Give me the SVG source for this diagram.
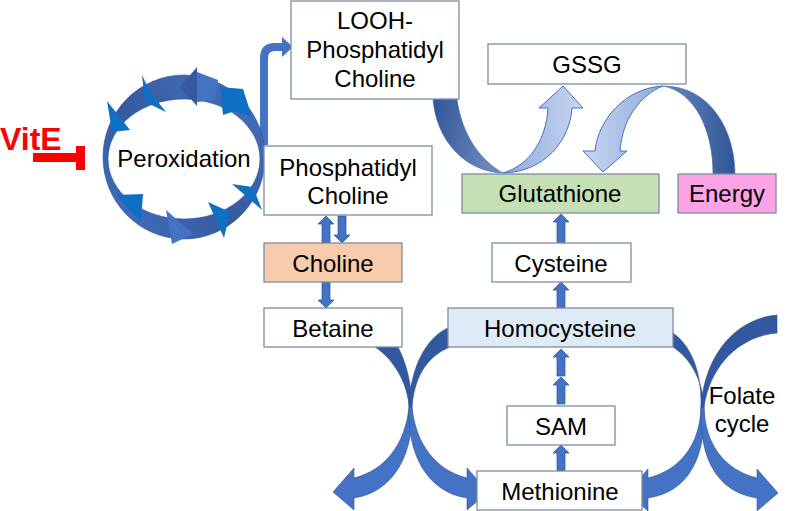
<svg xmlns="http://www.w3.org/2000/svg" width="800" height="511" viewBox="0 0 800 511">
<defs>
<linearGradient id="gDark" x1="0" y1="0" x2="1" y2="0.3">
<stop offset="0" stop-color="#2f5597"/><stop offset="1" stop-color="#6d87bd"/>
</linearGradient>
<linearGradient id="gDark2" x1="0" y1="0" x2="1" y2="0">
<stop offset="0" stop-color="#6d87bd"/><stop offset="1" stop-color="#2f5597"/>
</linearGradient>
<linearGradient id="gLight" x1="0" y1="0" x2="1" y2="0">
<stop offset="0" stop-color="#8fa9dc"/><stop offset="1" stop-color="#c9d6ef"/>
</linearGradient>
<linearGradient id="gLight2" x1="0" y1="0" x2="1" y2="0">
<stop offset="0" stop-color="#c9d6ef"/><stop offset="1" stop-color="#8fa9dc"/>
</linearGradient>
<linearGradient id="gRing" x1="0" y1="1" x2="1" y2="0">
<stop offset="0" stop-color="#4472c4"/><stop offset="0.45" stop-color="#36599f"/><stop offset="1" stop-color="#4a74c0"/>
</linearGradient>
</defs>
<style>
.box{fill:#ffffff;stroke:#7f8ca2;stroke-width:1.3}
.t{font-family:"Liberation Sans",Arial,sans-serif;font-size:24px;fill:#000;text-anchor:middle}
.sa{fill:#4472c4;stroke:#2f528f;stroke-width:0.7}
.cdark{fill:#34589f;stroke:#2f528f;stroke-width:0.6}
.clite{fill:#4472c4;stroke:#2f528f;stroke-width:0.6}
.tri{fill:#0f6fc2}
</style>
<rect width="800" height="511" fill="#ffffff"/>

<g id="connectors">
<!-- top U arrow LOOH -> Glutathione -> GSSG -->
<path d="M 433,99 C 436,140 465,172 503,173 C 480,160 462,135 457,99 Z" fill="url(#gDark)" stroke="#4a6db5" stroke-width="0.6"/>
<path d="M 503,173 C 545,172 570,140 572,108 L 583,108 L 563,86 L 539,108 L 548,108 C 546,140 530,165 503,173 Z" fill="url(#gLight)" stroke="#4472c4" stroke-width="1"/>
<!-- Energy -> over top -> Glutathione -->
<path d="M 663,86 C 710,86 735,130 735,174 L 713,174 C 713,130 695,92 663,86 Z" fill="url(#gDark2)" stroke="#4a6db5" stroke-width="0.6"/>
<path d="M 663,86 C 625,88 598,120 595,151 L 583,151 L 603,172 L 627,151 L 620,151 C 622,120 640,95 663,86 Z" fill="url(#gLight2)" stroke="#4472c4" stroke-width="1"/>

<!-- left crossing pair -->
<path class="cdark" d="M 375,347 C 395,360 408,385 409,407 L 412,407 C 412,385 406,362 398,347 Z"/>
<path class="clite" d="M 409,407 C 405,445 385,470 354,478 L 354,468 L 333,492 L 354,510 L 354,498 C 395,492 414,452 412,407 Z"/>
<path class="cdark" d="M 450,327 C 425,337 410,370 409,407 L 412,407 C 414,380 425,357 450,347 Z"/>
<path class="clite" d="M 412,407 C 416,445 436,470 467,478 L 467,468 L 488,492 L 467,510 L 467,498 C 426,492 407,452 409,407 Z"/>

<!-- right crossing pair -->
<path class="cdark" d="M 673,333 C 690,345 702,370 701,407 L 704,407 C 703,380 690,358 673,347 Z"/>
<path class="clite" d="M 701,407 C 700,445 680,470 648,478 L 648,469 L 627,493 L 648,511 L 648,498 C 690,492 706,455 704,407 Z"/>
<path class="cdark" d="M 777,315 C 740,318 705,350 701,407 L 704,407 C 710,365 740,336 777,333 Z"/>
<path class="clite" d="M 704,407 C 705,445 725,470 757,478 L 757,469 L 778,493 L 757,511 L 757,498 C 715,492 699,455 701,407 Z"/>

<!-- small block arrows -->
<path class="sa" d="M326,216 L334,224 L330,224 L330,243 L322,243 L322,224 L318,224 Z"/>
<path class="sa" d="M342,243 L350,235 L346,235 L346,216 L338,216 L338,235 L334,235 Z"/>
<path class="sa" d="M326,308 L334,300 L330,300 L330,282 L322,282 L322,300 L318,300 Z"/>
<path class="sa" d="M561,282 L569,290 L565,290 L565,308 L557,308 L557,290 L553,290 Z"/>
<path class="sa" d="M561,214 L569,222 L565,222 L565,243 L557,243 L557,222 L553,222 Z"/>
<path class="sa" d="M561,349 L569,357 L565,357 L565,376 L557,376 L557,357 L553,357 Z"/>
<path class="sa" d="M561,377 L569,385 L565,385 L565,404 L557,404 L557,385 L553,385 Z"/>
<path class="sa" d="M561,445 L569,453 L565,453 L565,471 L557,471 L557,453 L553,453 Z"/>

<!-- ring to LOOH -->
<path d="M 264,145 L 264,58 Q 264,47 275,47 L 283,47" fill="none" stroke="#4472c4" stroke-width="8"/>
<polygon points="282,37 293,47 282,57" fill="#4472c4"/>
</g>

<g id="peroxidation">
<path d="M 103,157 A 81,82 0 1 0 265,157 A 81,82 0 1 0 103,157 Z M 108,159 A 76,60 0 1 1 260,159 A 76,60 0 1 1 108,159 Z" fill="url(#gRing)" fill-rule="evenodd" stroke="#2f528f" stroke-width="0.6"/>
<polygon points="180,87 197,67 197,106" fill="#36599f"/>
<polygon points="197,72 218,80 215,100 197,102" fill="#4472c4"/>
<polygon points="220,87 243,89 252,117 235,111 223,115" class="tri"/>
<polygon points="142,75 150,92 166,112 145,102" class="tri"/>
<polygon points="107,101 130,130 112,132" class="tri"/>
<polygon points="116,195 143,194 141,222" class="tri"/>
<polygon points="166,210 193,234 172,244" fill="#4472c4"/>
<polygon points="208,202 230,212 224,238" class="tri"/>
<polygon points="232,184 253,187 262,210" class="tri"/>
<text class="t" x="184" y="167">Peroxidation</text>
</g>

<g id="vite">
<text x="0" y="150" font-family="Liberation Sans,Arial,sans-serif" font-weight="bold" font-size="32" fill="#ff0000">VitE</text>
<rect x="33" y="153" width="47" height="9" fill="#ff0000"/>
<rect x="76" y="146" width="9" height="24" fill="#ff0000"/>
</g>

<g id="looh">
<rect class="box" x="291" y="1" width="168" height="98"/>
<text class="t" x="375" y="29">LOOH-</text>
<text class="t" x="375" y="58">Phosphatidyl</text>
<text class="t" x="375" y="87">Choline</text>
</g>
<g id="gssg">
<rect class="box" x="488" y="44" width="198" height="40"/>
<text class="t" x="587" y="73">GSSG</text>
</g>
<g id="pc">
<rect class="box" x="264" y="146" width="168" height="69"/>
<text class="t" x="348" y="176">Phosphatidyl</text>
<text class="t" x="348" y="204">Choline</text>
</g>
<g id="glutathione">
<rect class="box" x="462" y="174" width="197" height="39" style="fill:#c5e0b4"/>
<text class="t" x="560" y="202">Glutathione</text>
</g>
<g id="energy">
<rect class="box" x="678" y="174" width="98" height="39" style="fill:#fba3e4"/>
<text class="t" x="727" y="202">Energy</text>
</g>
<g id="choline">
<rect class="box" x="264" y="243" width="138" height="39" style="fill:#f8cbad"/>
<text class="t" x="333" y="272">Choline</text>
</g>
<g id="betaine">
<rect class="box" x="264" y="308" width="138" height="39"/>
<text class="t" x="333" y="337">Betaine</text>
</g>
<g id="cysteine">
<rect class="box" x="492" y="243" width="139" height="39"/>
<text class="t" x="561" y="272">Cysteine</text>
</g>
<g id="homocysteine">
<rect class="box" x="448" y="308" width="225" height="39" style="fill:#deebf7"/>
<text class="t" x="560" y="337">Homocysteine</text>
</g>
<g id="sam">
<rect class="box" x="507" y="406" width="108" height="39"/>
<text class="t" x="561" y="435">SAM</text>
</g>
<g id="methionine">
<rect class="box" x="477" y="471" width="165" height="39"/>
<text class="t" x="560" y="500">Methionine</text>
</g>
<g id="folate">
<text class="t" x="742" y="404">Folate</text>
<text class="t" x="742" y="432">cycle</text>
</g>
</svg>
